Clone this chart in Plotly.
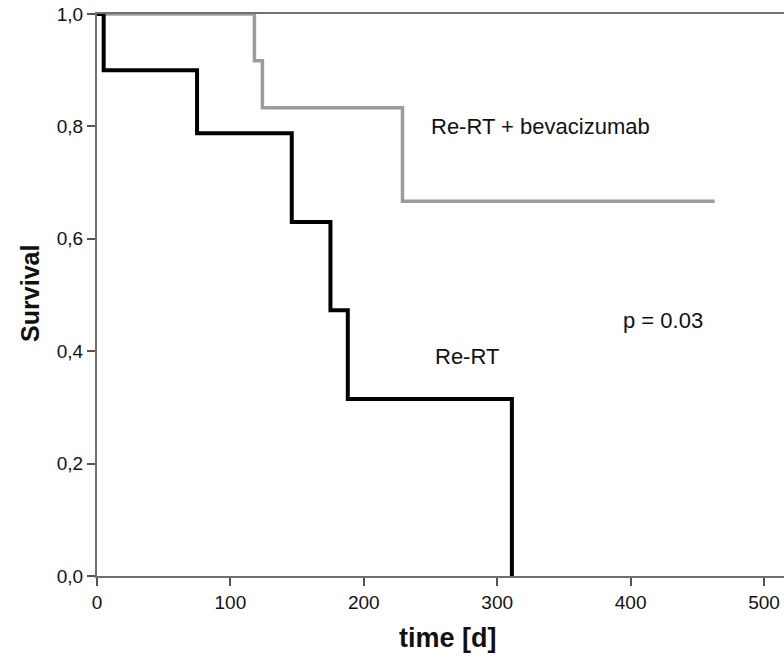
import plotly.graph_objects as go

# Kaplan-Meier step data
rert_times = [0, 5, 75, 146, 175, 188, 311]
rert_surv = [1.0, 0.9, 0.788, 0.63, 0.473, 0.315, 0.0]

bev_times = [0, 118, 124, 229, 463]
bev_surv = [1.0, 0.917, 0.833, 0.667, 0.667]

x_ticks = [0, 100, 200, 300, 400, 500]
y_ticks = [0.0, 0.2, 0.4, 0.6, 0.8, 1.0]
y_tick_text = ["0,0", "0,2", "0,4", "0,6", "0,8", "1,0"]

FONT = "Liberation Sans, Arial, sans-serif"

fig = go.Figure()
fig.add_trace(go.Scatter(
    x=bev_times, y=bev_surv, mode="lines", line_shape="hv",
    line=dict(color="#9c9c9c", width=3.5), cliponaxis=False,
    name="Re-RT + bevacizumab", showlegend=False))
fig.add_trace(go.Scatter(
    x=rert_times, y=rert_surv, mode="lines", line_shape="hv",
    line=dict(color="#000000", width=4), cliponaxis=False,
    name="Re-RT", showlegend=False))

fig.update_layout(
    width=784, height=658,
    margin=dict(l=97, r=0, t=14, b=82, autoexpand=False),
    paper_bgcolor="white", plot_bgcolor="white",
    font=dict(family=FONT, size=18, color="#111"),
    xaxis=dict(range=[0, 515], tickvals=x_ticks, showgrid=False, zeroline=False,
               showline=True, linecolor="#707070", linewidth=2, mirror=True,
               ticks="outside", ticklen=8, tickwidth=2, tickcolor="#555",
               tickfont=dict(family=FONT, size=19, color="#111")),
    yaxis=dict(range=[0, 1], tickvals=y_ticks, ticktext=y_tick_text,
               showgrid=False, zeroline=False,
               showline=True, linecolor="#707070", linewidth=2,
               ticks="outside", ticklen=8, tickwidth=2, tickcolor="#555",
               tickfont=dict(family=FONT, size=19, color="#111")),
    annotations=[
        dict(x=249, y=0.80, xref="x", yref="y", text="Re-RT + bevacizumab",
             showarrow=False, xanchor="left", yanchor="middle",
             font=dict(family=FONT, size=22, color="#111")),
        dict(x=252, y=0.391, xref="x", yref="y", text="Re-RT",
             showarrow=False, xanchor="left", yanchor="middle",
             font=dict(family=FONT, size=22, color="#111")),
        dict(x=393, y=0.455, xref="x", yref="y", text="p = 0.03",
             showarrow=False, xanchor="left", yanchor="middle",
             font=dict(family=FONT, size=22, color="#111")),
        dict(x=0.511, y=-0.110, xref="paper", yref="paper", text="<b>time [d]</b>",
             showarrow=False, xanchor="center", yanchor="middle",
             font=dict(family=FONT, size=27, color="#111")),
        dict(x=-0.0975, y=0.502, xref="paper", yref="paper", text="<b>Survival</b>",
             showarrow=False, xanchor="center", yanchor="middle", textangle=-90,
             font=dict(family=FONT, size=25, color="#111")),
    ],
)

fig.write_html(
    "out.html",
    config={"displayModeBar": False, "staticPlot": True},
    post_script="document.body.style.margin='0';document.body.style.overflow='hidden';",
)
